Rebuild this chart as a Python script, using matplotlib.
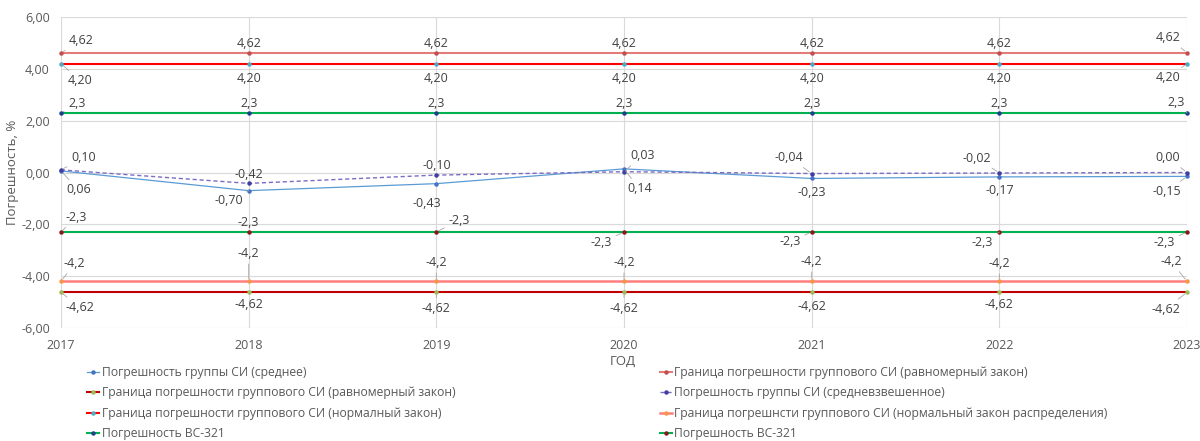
import matplotlib.pyplot as plt
from matplotlib.lines import Line2D

plt.rcParams['font.family'] = ['Open Sans', 'DejaVu Sans']

years = [2017, 2018, 2019, 2020, 2021, 2022, 2023]

# group error, plain mean and weighted mean
mean_err = [0.06, -0.70, -0.43, 0.14, -0.23, -0.17, -0.15]
wmean_err = [0.10, -0.42, -0.10, 0.03, -0.04, -0.02, 0.00]

# bounds of the group instrument error and of the VS-321 error
uniform_upper = [4.62, 4.62, 4.62, 4.62, 4.62, 4.62, 4.62]
uniform_lower = [-4.62, -4.62, -4.62, -4.62, -4.62, -4.62, -4.62]
normal_upper = [4.20, 4.20, 4.20, 4.20, 4.20, 4.20, 4.20]
normal_lower = [-4.2, -4.2, -4.2, -4.2, -4.2, -4.2, -4.2]
vs_upper = [2.3, 2.3, 2.3, 2.3, 2.3, 2.3, 2.3]
vs_lower = [-2.3, -2.3, -2.3, -2.3, -2.3, -2.3, -2.3]

names = {
    'mean': 'Погрешность группы СИ (среднее)',
    'uni_up': 'Граница погрешности группового СИ (равномерный закон)',
    'uni_lo': 'Граница погрешности группового СИ (равномерный закон)',
    'wmean': 'Погрешность группы СИ (средневзвешенное)',
    'norm_up': 'Граница погрешности группового СИ (нормалный закон)',
    'norm_lo': 'Граница погрешнсти группового СИ (нормальный закон распределения)',
    'vs_up': 'Погрешность ВС-321',
    'vs_lo': 'Погрешность ВС-321',
}

# (values, decimals, line colour, marker colour, line width, linestyle)
series = {
    'mean': (mean_err, 2, '#5B9BD5', '#4472C4', 0.9, '-'),
    'uni_up': (uniform_upper, 2, '#E47B78', '#C0504D', 1.5, '-'),
    'uni_lo': (uniform_lower, 2, '#C00000', '#9BBB59', 1.5, '-'),
    'wmean': (wmean_err, 2, '#7B6CC4', '#3F3F9F', 1.0, (0, (3, 2))),
    'norm_up': (normal_upper, 2, '#FF0000', '#4BACC6', 1.5, '-'),
    'norm_lo': (normal_lower, 1, '#FF7F7F', '#F79646', 1.8, '-'),
    'vs_up': (vs_upper, 1, '#00B050', '#1F3F8F', 1.5, '-'),
    'vs_lo': (vs_lower, 1, '#00B050', '#8B1A1A', 1.5, '-'),
}

# data label placement: (dx px, dy px downwards, alignment, leader line)
label_pos = {
    'uni_up': [(8, -12, 'left', True)] + [(0, -9, 'center', False)] * 5 + [(-6, -15, 'right', True)],
    'norm_up': [(7, 17, 'left', True)] + [(0, 15, 'center', False)] * 5 + [(-7, 14, 'right', True)],
    'vs_up': [(7, -9, 'left', True)] + [(0, -9, 'center', False)] * 5 + [(-2, -10, 'right', True)],
    'wmean': [(10, -12, 'left', True), (0, -9, 'center', False), (0, -10, 'center', False),
              (6, -16, 'left', True), (-8, -16, 'right', True), (-8, -15, 'right', True),
              (-7, -15, 'right', True)],
    'mean': [(5, 19, 'left', True), (-6, 10, 'right', True), (-10, 20, 'center', False),
             (3, 20, 'left', True), (0, 14, 'center', False), (0, 14, 'center', False),
             (-6, 15, 'right', True)],
    'vs_lo': [(4, -15, 'left', True), (0, -10, 'center', False), (12, -12, 'left', True),
              (-12, 10, 'right', True), (-11, 9, 'right', True), (-6, 10, 'right', True),
              (-12, 10, 'right', True)],
    'norm_lo': [(3, -18, 'left', True), (0, -28, 'center', True), (0, -19, 'center', True),
                (0, -19, 'center', True), (0, -20, 'center', True), (0, -18, 'center', True),
                (-5, -20, 'right', True)],
    'uni_lo': [(4, 15, 'left', True), (0, 12, 'center', False), (0, 16, 'center', True),
               (0, 16, 'center', True), (0, 14, 'center', False), (0, 12, 'center', False),
               (-7, 17, 'right', True)],
}

fig = plt.figure(figsize=(12, 4.41), dpi=100)
ax = fig.add_axes([61 / 1200, 1 - 328 / 441, 1126 / 1200, 311 / 441])

for key, (vals, dec, col, mcol, lw, ls) in series.items():
    ax.plot(years, vals, color=col, lw=lw, linestyle=ls, marker='o',
            ms=2.2, mfc=mcol, mec=mcol, zorder=3, clip_on=False)
    for x, v, (dx, dy, ha, leader) in zip(years, vals, label_pos[key]):
        txt = f'{v:.{dec}f}'.replace('.', ',')
        arrow = None
        if leader:
            arrow = dict(arrowstyle='-', color='#A6A6A6', lw=0.6, shrinkA=1, shrinkB=2)
        ax.annotate(txt, (x, v), xytext=(dx, -dy), textcoords='offset pixels',
                    ha=ha, va='center', fontsize=9, color='#404040',
                    arrowprops=arrow, zorder=4)

ax.set_xlim(2017, 2023)
ax.set_ylim(-6, 6)
ax.set_xticks(years)
ax.set_yticks([-6, -4, -2, 0, 2, 4, 6])
ax.set_yticklabels([f'{t:.2f}'.replace('.', ',') for t in [-6, -4, -2, 0, 2, 4, 6]])
ax.grid(True, color='#D9D9D9', lw=0.8)
ax.set_axisbelow(True)
for s in ax.spines.values():
    s.set_visible(False)
ax.tick_params(length=0, labelsize=9, labelcolor='#595959', pad=8)

ax.set_xlabel('ГОД', fontsize=9.5, color='#595959')
ax.xaxis.set_label_coords(0.499, -0.088)
ax.set_ylabel('Погрешность, %', fontsize=9.5, color='#595959')
ax.yaxis.set_label_coords(-0.037, 0.5)


def legend_handle(key):
    vals, dec, col, mcol, lw, ls = series[key]
    return Line2D([], [], color=col, lw=lw, linestyle=ls, marker='o', ms=2.2, mfc=mcol, mec=mcol)


left_keys = ['mean', 'uni_lo', 'norm_up', 'vs_up']
right_keys = ['uni_up', 'wmean', 'norm_lo', 'vs_lo']
for keys, x0 in [(left_keys, 87), (right_keys, 660)]:
    fig.legend([legend_handle(k) for k in keys], [names[k] for k in keys],
               loc='upper left', bbox_to_anchor=(x0 / 1200, 1 - 366 / 441),
               frameon=False, fontsize=8.7, labelcolor='#595959', handlelength=1.0,
               handletextpad=0.2, labelspacing=0.62, borderpad=0, borderaxespad=0)

fig.savefig('out.png', dpi=100)
